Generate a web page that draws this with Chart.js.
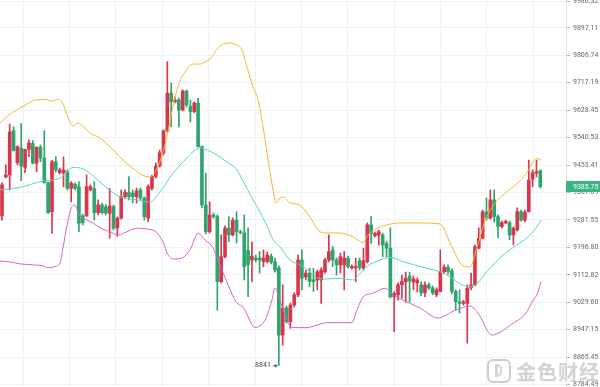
<!DOCTYPE html>
<html>
<head>
<meta charset="utf-8">
<script src="https://cdn.jsdelivr.net/npm/chart.js@4.4.0/dist/chart.umd.min.js"></script>
<style>
  html, body { margin: 0; padding: 0; background: #fff; }
  #wrap { position: relative; width: 600px; height: 387px; overflow: hidden; }
  #wm { position: absolute; left: 487px; top: 357px; height: 28px; display: flex; align-items: center; opacity: 0.75; }
  #wm .ico { width: 20px; height: 20px; border: 2px solid #bdbdbd; border-radius: 6px; position: relative; margin-right: 5px; }
  #wm .ico span { position: absolute; left: 6px; top: 3px; width: 7px; height: 13px; border: 2px solid #c9c9c9; border-left-width: 3px; border-radius: 0 5px 5px 0; box-sizing: border-box; }
  #wm .txt { font-family: "Noto Sans CJK SC", sans-serif; font-size: 20px; font-weight: 700; color: #c4c4c4; letter-spacing: 1px; }
</style>
</head>
<body>
<div id="wrap">
  <canvas id="myChart" width="600" height="387"></canvas>
  <div id="wm"><div class="ico"><span></span></div><div class="txt">金色财经</div></div>
</div>
<script>
// candles, one per period (index 0..140)
var openPrices = [9294,9416,9422,9563,9461,9507,9446,9503,9522,9459,
  9510,9475,9398,9307,9464,9429,9429,9432,9380,9393,
  9385,9294,9294,9375,9379,9304,9328,9322,9302,9323,
  9256,9287,9354,9367,9365,9354,9375,9350,9287,9380,
  9417,9450,9492,9562,9683,9656,9661,9629,9690,9640,
  9624,9651,9512,9328,9245,9297,9292,9092,9168,9256,
  9235,9281,9245,9241,9187,9158,9164,9164,9153,9153,
  9170,9153,9134,8931,9012,8971,9021,9052,9158,9106,
  9118,9097,9097,9097,9122,9158,9189,9158,9143,9143,
  9163,9134,9134,9156,9134,9153,9266,9233,9235,9235,
  9209,9194,9046,9052,9082,9092,9109,9091,9088,9082,
  9058,9082,9073,9052,9062,9122,9136,9125,9062,9031,
  9026,9026,9073,9082,9194,9225,9307,9287,9344,9292,
  9261,9272,9273,9235,9250,9307,9281,9307,9409,9428,
  9436];
var highPrices = [9397,9454,9584,9575,9514,9586,9504,9533,9531,9511,
  9517,9563,9400,9469,9480,9444,9479,9438,9401,9397,
  9401,9300,9422,9391,9401,9344,9334,9330,9380,9328,
  9291,9375,9375,9417,9375,9381,9381,9353,9391,9422,
  9460,9501,9565,9786,9716,9671,9668,9694,9694,9661,
  9655,9667,9514,9428,9338,9303,9297,9235,9263,9292,
  9288,9307,9250,9297,9257,9214,9173,9184,9189,9183,
  9176,9164,9140,9082,9018,9027,9058,9173,9189,9127,
  9133,9133,9127,9134,9164,9235,9199,9164,9179,9184,
  9170,9143,9163,9164,9194,9272,9292,9244,9250,9241,
  9216,9257,9061,9088,9112,9121,9121,9109,9103,9091,
  9091,9088,9079,9073,9189,9143,9143,9131,9067,9067,
  9036,9082,9118,9204,9257,9312,9350,9375,9375,9297,
  9278,9281,9278,9260,9319,9312,9312,9469,9438,9469,
  9438];
var lowPrices = [9281,9413,9375,9498,9454,9404,9429,9480,9457,9432,
  9464,9396,9302,9240,9432,9425,9385,9375,9338,9375,
  9245,9266,9292,9372,9281,9297,9300,9297,9225,9250,
  9230,9284,9350,9344,9334,9334,9344,9281,9276,9375,
  9413,9447,9485,9558,9575,9652,9575,9626,9639,9591,
  9620,9511,9319,9238,9241,9287,9006,9088,9164,9214,
  9232,9210,9238,9097,9046,9092,9152,9118,9137,9149,
  9146,9121,8841,8901,8967,8951,9015,9046,9067,9097,
  9077,9062,9067,9026,9118,9152,9138,9112,9118,9067,
  9134,9130,9092,9127,9127,9149,9209,9229,9204,9168,
  9168,9042,8941,9036,9042,9030,9030,9067,9061,9049,
  9046,9067,9052,9046,9061,9118,9115,9055,9006,8997,
  9021,8907,9067,9079,9192,9223,9281,9284,9275,9226,
  9257,9269,9220,9204,9247,9278,9275,9306,9385,9416,
  9381];
var closePrices = [9391,9422,9559,9499,9512,9450,9503,9524,9459,9510,
  9475,9398,9304,9464,9438,9438,9438,9380,9396,9380,
  9271,9273,9385,9385,9304,9328,9304,9303,9325,9256,
  9287,9354,9367,9354,9354,9372,9350,9292,9385,9417,
  9450,9492,9562,9683,9656,9661,9629,9690,9645,9624,
  9652,9512,9328,9245,9297,9292,9092,9168,9256,9235,
  9281,9245,9242,9137,9143,9170,9158,9158,9164,9173,
  9152,9127,8931,9012,8971,9021,9052,9158,9102,9118,
  9092,9092,9122,9127,9158,9184,9158,9143,9168,9164,
  9138,9138,9138,9134,9156,9266,9240,9240,9245,9204,
  9194,9046,9056,9082,9092,9102,9094,9100,9097,9058,
  9082,9073,9058,9067,9122,9136,9122,9062,9031,9026,
  9031,9072,9082,9199,9225,9307,9288,9344,9292,9261,
  9273,9277,9235,9256,9307,9281,9306,9406,9429,9432,
  9385.75];

// bollinger bands (position in candle index, value)
var upperIdx = [-0.5,2.1,4.7,6.5,8.6,11.2,13,14.6,15.9,17.2,18.5,19.8,21.3,22.9,25.5,28.9,32,34.6,36.4,38.5,40.1,41.9,43.2,44.5,45.8,47.6,49.7,51.5,52.8,54.4,55.4,56.7,59.3,61.1,62.4,63.7,65.3,66.6,67.9,69.2,70.5,71.3,72.3,73.3,74.9,76.7,78.8,80.9,82.4,84.5,87.9,91.3,93.9,94.9,96.7,100.1,103.5,108.7,113.9,116.8,119.9,121.7,123.5,125.6,128.7,131.3,134.7,136.8,138.4,139.1,140.2];
var upperVal = [9587,9616,9635,9648,9661,9663,9658,9664,9648,9603,9578,9587,9574,9555,9539,9501,9463,9438,9422,9416,9438,9495,9562,9642,9707,9752,9778,9778,9785,9798,9817,9837,9847,9840,9824,9768,9703,9661,9574,9469,9375,9334,9350,9353,9334,9331,9312,9275,9247,9241,9241,9229,9211,9229,9250,9266,9272,9272,9269,9204,9140,9137,9195,9278,9341,9369,9403,9435,9469,9474,9469];
var middleIdx = [-0.5,4.7,10.7,13.3,15.6,16.9,18.5,21.1,23.7,27.3,30.7,35.1,38.5,41.1,44.5,48.1,50.2,51.5,53.3,55.9,58.5,61.1,62.7,65,67.1,68.9,70.5,72.3,74.9,77.5,80.1,81.9,84.5,87.9,91.3,93.1,94.9,98.3,100.9,104.3,108.7,113.9,116.5,119.6,121.7,123.5,126.1,130.3,133.9,136.5,139.1,140.2];
var middleVal = [9375,9383,9403,9406,9416,9432,9446,9441,9419,9381,9354,9344,9337,9369,9428,9476,9501,9508,9501,9485,9463,9438,9403,9350,9306,9263,9220,9198,9158,9143,9122,9103,9100,9102,9097,9117,9138,9158,9166,9153,9138,9122,9107,9082,9076,9085,9122,9173,9204,9226,9260,9281];
var lowerIdx = [-0.5,2.1,4.7,8.1,10.7,12,13.8,15.1,15.9,17.2,18.2,19,19.8,20.8,22.1,23.7,25.5,28.1,30.2,32.5,35.1,37.7,39.8,41.9,43.2,45,46.8,48.9,51,52.8,54.9,56.7,58.8,60.9,62.7,65.8,68.4,70.2,71,72.3,74.1,75.4,79.3,81.9,84.5,91,92.3,93.9,96.5,99.6,101.7,104.3,108.7,113.4,117.8,121.7,123.8,127.4,129.5,132.6,136.3,138.1,139.1,140.2];
var lowerVal = [9155,9152,9146,9143,9140,9134,9138,9149,9198,9281,9323,9328,9303,9288,9281,9272,9257,9245,9235,9245,9256,9253,9247,9213,9173,9161,9164,9189,9240,9220,9195,9143,9082,9030,9015,8954,8976,9036,9073,9036,8976,8954,8953,8961,8968,8968,9006,9045,9057,9072,9052,9036,9012,8982,9005,9018,8997,8931,8939,8964,8997,9036,9052,9092];

// right axis
var tickValues = [9986.32,9897.11,9806.74,9717.19,9628.45,9540.53,9453.41,9367.09,9281.55,9196.80,9112.82,9029.60,8947.15,8865.45,8784.49];
var tickLabels = ["9986.32","9897.11","9806.74","9717.19","9628.45","9540.53","9453.41","9367.09","9281.55","9196.80","9112.82","9029.60","8947.15","8865.45","8784.49"];
var gridPos = [5.5,17.6,29.6,41.7,53.8,65.8,77.9,89.9,102,114.1,126.1,138.1];

var upColor = "#d9364b";
var downColor = "#2fa46d";

var candleColors = openPrices.map(function (o, i) {
  return closePrices[i] >= o ? upColor : downColor;
});

function pts(xs, ys) {
  return xs.map(function (x, i) { return {x: x, y: ys[i]}; });
}

var extras = {
  id: "extras",
  afterDatasetsDraw: function (chart) {
    var ctx = chart.ctx, x = chart.scales.x, y = chart.scales.y;
    var k = 0;
    lowPrices.forEach(function (v, i) { if (v < lowPrices[k]) k = i; });
    var px = x.getPixelForValue(k), py = y.getPixelForValue(lowPrices[k]);
    ctx.save();
    ctx.fillStyle = "#444";
    ctx.strokeStyle = "#444";
    ctx.font = "7px Roboto, 'Liberation Sans', sans-serif";
    ctx.textAlign = "right";
    ctx.textBaseline = "middle";
    ctx.fillText(String(lowPrices[k]), px - 8, py);
    ctx.lineWidth = 1;
    ctx.beginPath();
    ctx.moveTo(px - 6, py + 0.5);
    ctx.lineTo(px - 2, py + 0.5);
    ctx.stroke();
    ctx.beginPath();
    ctx.moveTo(px - 1.5, py + 0.5);
    ctx.lineTo(px - 3.5, py - 1.5);
    ctx.lineTo(px - 3.5, py + 2.5);
    ctx.closePath();
    ctx.fill();
    ctx.restore();
  },
  afterDraw: function (chart) {
    var ctx = chart.ctx, y = chart.scales.y;
    var last = closePrices[closePrices.length - 1];
    var py = Math.round(y.getPixelForValue(last));
    ctx.save();
    ctx.fillStyle = "#3bb383";
    ctx.fillRect(chart.chartArea.right, py - 6, 600 - chart.chartArea.right, 11);
    ctx.fillStyle = "#fff";
    ctx.font = "7px Roboto, 'Liberation Sans', sans-serif";
    ctx.textAlign = "left";
    ctx.textBaseline = "middle";
    ctx.fillText(last.toFixed(2), chart.chartArea.right + 7, py);
    ctx.restore();
  }
};

Chart.defaults.font.family = "Roboto, 'Liberation Sans', sans-serif";

new Chart("myChart", {
  type: "bar",
  data: {
    datasets: [
      {
        type: "line",
        data: pts(upperIdx, upperVal),
        borderColor: "#f6b637",
        borderWidth: 1,
        pointRadius: 0,
        cubicInterpolationMode: "monotone",
        order: 0
      },
      {
        type: "line",
        data: pts(middleIdx, middleVal),
        borderColor: "#5ad3c3",
        borderWidth: 1,
        pointRadius: 0,
        cubicInterpolationMode: "monotone",
        order: 0
      },
      {
        type: "line",
        data: pts(lowerIdx, lowerVal),
        borderColor: "#d863cf",
        borderWidth: 1,
        pointRadius: 0,
        cubicInterpolationMode: "monotone",
        order: 0
      },
      {
        data: openPrices.map(function (o, i) {
          return {x: i, y: [openPrices[i], closePrices[i]]};
        }),
        backgroundColor: candleColors,
        barThickness: 3,
        minBarLength: 1,
        grouped: false,
        order: 1
      },
      {
        data: openPrices.map(function (o, i) {
          return {x: i, y: [lowPrices[i], highPrices[i]]};
        }),
        backgroundColor: candleColors,
        barThickness: 1,
        grouped: false,
        order: 2
      }
    ]
  },
  options: {
    responsive: false,
    animation: false,
    events: [],
    layout: {padding: 0},
    plugins: {legend: {display: false}, tooltip: {enabled: false}},
    scales: {
      x: {
        type: "linear",
        min: -0.52,
        max: 146.68,
        bounds: "data",
        offset: false,
        afterBuildTicks: function (s) {
          s.ticks = gridPos.map(function (v) { return {value: v}; });
        },
        afterFit: function (s) { s.height = 0; s.paddingLeft = 0; s.paddingRight = 0; },
        ticks: {display: false},
        border: {display: false},
        grid: {offset: false, color: "#eef2f2", drawTicks: false}
      },
      y: {
        type: "logarithmic",
        position: "right",
        min: 8777.2,
        max: 9989.7,
        bounds: "data",
        afterBuildTicks: function (s) {
          s.ticks = tickValues.map(function (v) { return {value: v}; });
        },
        afterFit: function (s) { s.width = 34; s.paddingTop = 0; s.paddingBottom = 0; },
        ticks: {
          autoSkip: false,
          padding: 3,
          color: "#666",
          font: {size: 7},
          callback: function (v, i) { return tickLabels[i]; }
        },
        border: {display: true, color: "#dfe6e6"},
        grid: {color: "#eef2f2", tickLength: 4, tickColor: "#b5b5b5"}
      }
    }
  },
  plugins: [extras]
});
</script>
</body>
</html>
